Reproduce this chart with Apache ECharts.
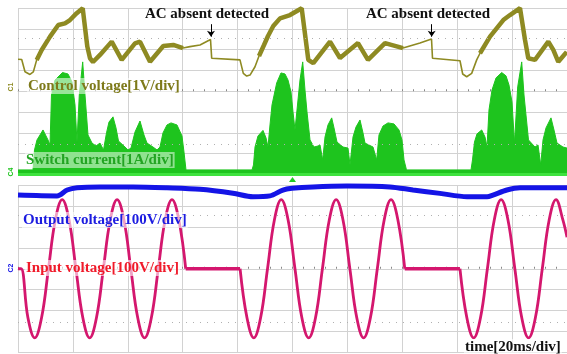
<!DOCTYPE html>
<html><head><meta charset="utf-8">
<script src="https://cdn.jsdelivr.net/npm/echarts@6/dist/echarts.min.js"></script>
<style>html,body{margin:0;padding:0;background:#fff}#c{width:567px;height:354px}</style>
</head><body><div id="c"></div>
<script>
// ---- DATA (time in ms, 20 ms/div) ----
const timeRange = [0, 200];
const timeStep = 20;

// Control voltage [V] (1 V/div)
const controlVoltage = [[0,1.36],[1.35,1.35],[2.55,0.76],[4.37,0.63],[5.57,0.75],[6.81,1.33],[8.63,1.81],[11.66,2.45],[14.68,3.01],[17.12,3.09],[18.94,3.25],[21.38,3.58],[23.57,3.82],[24.04,3.78],[25.25,1.97],[26.23,1.41],[27.32,1.23],[29.87,1.57],[34.13,2.21],[37.78,1.33],[42.62,2.13],[44.44,2.21],[48.09,1.24],[52.93,2.0],[56.58,2.05],[60.11,1.90],[62.66,1.97],[66.3,2.05],[70.13,2.31],[70.56,1.41],[80.87,1.33],[82.08,0.68],[83.32,0.55],[84.52,0.60],[86.34,1.0],[87.8,1.52],[89.62,2.05],[91.08,2.48],[93.0,2.96],[95.45,3.33],[99.09,3.49],[103.35,3.82],[103.93,3.73],[105.76,1.33],[107.58,1.17],[113.66,2.21],[117.3,1.42],[123.86,2.14],[127.5,1.33],[133.7,2.14],[140.26,1.90],[146.45,2.14],[150.64,2.34],[151.0,1.41],[161.02,1.29],[162.0,0.65],[163.46,0.52],[165.28,0.68],[167.1,1.33],[168.31,1.65],[171.95,2.45],[176.79,3.25],[179.23,3.49],[182.88,3.82],[183.24,3.78],[184.7,2.29],[185.9,1.41],[188.34,1.33],[193.19,2.21],[195.01,1.81],[196.83,1.24],[199.89,1.71]];
// time spans where the control voltage shows a wide ripple band
const controlRippleSpans = [[6.8, 61], [87.8, 141], [168.3, 200]];
// "AC absent detected" instants [ms]
const acAbsentTimes = [70.3, 150.7];

// Switch current envelope [A] (1 A/div)
const switchCurrent = [[0,0.22],[5.46,0.22],[6.01,1.18],[6.92,1.66],[9.11,2.14],[10.93,1.66],[11.66,1.42],[12.2,3.82],[13.48,4.54],[16.21,4.9],[18.21,4.83],[19.67,4.45],[20.77,3.34],[21.49,1.56],[22.33,3.82],[23.57,5.41],[24.41,3.82],[25.5,1.9],[26.96,1.51],[28.42,1.37],[29.87,1.51],[31.15,1.18],[32.24,2.0],[33.15,2.52],[34.61,2.77],[35.7,2.24],[36.61,1.61],[38.98,1.32],[40.07,1.18],[41.17,1.27],[42.62,2.04],[44.44,2.57],[45.9,1.9],[46.99,1.51],[49.18,1.32],[50.64,1.18],[51.73,1.32],[52.82,2.0],[54.28,2.38],[55.74,2.48],[57.92,2.38],[59.74,1.85],[60.47,1.08],[61.2,0.22],
[85.25,0.22],[85.79,0.46],[86.34,1.32],[87.43,1.85],[89.25,2.12],[90.35,1.76],[91.07,1.32],[91.8,2.38],[92.53,3.34],[94.24,4.4],[95.81,4.88],[97.27,4.83],[98.36,4.54],[99.45,3.97],[100.18,3.01],[100.91,2.14],[101.64,3.1],[102.73,4.54],[103.72,5.41],[104.55,4.06],[105.28,3.01],[106.38,1.66],[107.83,1.32],[109.29,1.37],[110.02,1.42],[111.0,0.7],[111.84,1.8],[112.93,2.38],[114.28,2.72],[115.12,2.24],[116.21,1.56],[118.4,1.32],[120.22,1.27],[120.95,0.46],[122.04,1.8],[123.13,2.28],[124.59,2.62],[125.68,2.0],[126.41,1.51],[129.33,1.32],[130.67,0.7],[131.51,1.9],[132.97,2.33],[134.79,2.48],[136.98,2.43],[138.8,2.14],[139.89,1.66],[140.62,0.7],[141.53,0.22],
[165.03,0.22],[165.57,0.7],[166.3,1.56],[167.21,1.95],[168.93,2.14],[170.13,1.8],[170.86,1.32],[171.58,3.1],[172.68,4.06],[174.14,4.64],[176.21,4.9],[177.78,4.74],[178.87,4.3],[179.96,3.49],[180.87,1.51],[182.04,4.21],[183.5,5.41],[184.34,3.82],[185.06,2.86],[185.97,1.66],[188.34,1.32],[189.44,1.42],[190.42,0.46],[191.26,1.66],[192.35,2.24],[194.17,2.72],[195.26,2.14],[196.36,1.51],[198.54,1.32],[200,1.27]];
const triggerTime = 100;

// Output voltage [V] (100 V/div)
const outputVoltage = [[0,352],[14.2,348],[17.9,376],[21.5,387],[29.9,391],[41.9,391],[54.3,387],[66.3,380],[78.3,361],[85.6,344],[91.8,348],[96.5,376],[99.8,384],[107.5,391],[119.9,395],[135.5,391],[143.9,376],[153.7,360],[163.6,344],[170.9,344],[173,352],[178.1,376],[182.9,387],[200,387]];

// Input voltage [V] (100 V/div)
const inputVoltage = [[0,0],[1.1,0],[3.6,-233],[6.1,-330],[8.6,-233],[11.1,0],[13.6,233],[16.1,330],[18.6,233],[21.1,0],[23.6,-233],[26.1,-330],[28.6,-233],[31.1,0],[33.6,233],[36.1,330],[38.6,233],[41.1,0],[43.6,-233],[46.1,-330],[48.6,-233],[51.1,0],[53.6,233],[56.1,330],[58.6,233],[61.1,0],
[80.9,0],[83.4,-233],[85.9,-330],[88.4,-233],[90.9,0],[93.4,233],[95.9,330],[98.4,233],[100.9,0],[103.4,-233],[105.9,-330],[108.4,-233],[110.9,0],[113.4,233],[115.9,330],[118.4,233],[120.9,0],[123.4,-233],[125.9,-330],[128.4,-233],[130.9,0],[133.4,233],[135.9,330],[138.4,233],[140.9,0],
[161,0],[163.5,-233],[166,-330],[168.5,-233],[171,0],[173.5,233],[176,330],[178.5,233],[181,0],[183.5,-233],[186,-330],[188.5,-233],[191,0],[193.5,233],[196,330],[198.5,233],[200,150]];

const labelTexts = {
  control: 'Control voltage[1V/div]',
  current: 'Switch current[1A/div]',
  output: 'Output voltage[100V/div]',
  input: 'Input voltage[100V/div]',
  time: 'time[20ms/div]',
  ac: 'AC absent detected'
};

// ---- STYLE ----
const GRID_COLOR = '#d2d2d2';
const FONT = 'bold 15px "Liberation Serif", "Times New Roman", serif';
const C_CTRL = '#8e8a22', C_CTRL_TXT = '#7e7a1a';
const C_CUR = '#1ec41e', C_CUR_TXT = '#22a422';
const C_OUT = '#1414e6', C_OUT_TXT = '#1c1ce0';
const C_IN = '#d4176e', C_IN_TXT = '#f01a2a';

const chart = echarts.init(document.getElementById('c'), null, {renderer: 'canvas'});

function inSpans(t) { return controlRippleSpans.some(s => t >= s[0] && t <= s[1]); }
const controlThick = controlVoltage.map(p => inSpans(p[0]) ? p : [p[0], null]);

// split input into sine segments and flat (absent) segments
const inSeg = [], flatSeg = [];
(function () {
  let cur = [inputVoltage[0]];
  for (let i = 1; i < inputVoltage.length; i++) {
    const p = inputVoltage[i], q = inputVoltage[i - 1];
    if (p[1] === 0 && q[1] === 0 && p[0] - q[0] > 6) {
      inSeg.push(cur); flatSeg.push([q, p]); cur = [p];
    } else cur.push(p);
  }
  inSeg.push(cur);
})();

const hiddenAxis = {axisLine:{show:false}, axisTick:{show:false}, axisLabel:{show:false}, splitLine:{show:false}};
function mainX(g) {
  return {gridIndex:g, type:'value', min:timeRange[0], max:timeRange[1], interval:timeStep,
    axisLine:{show:false}, axisTick:{show:false}, axisLabel:{show:false},
    splitLine:{show:true, lineStyle:{color:GRID_COLOR, width:1}}};
}
function centerX(g, yi) {
  return {gridIndex:g, type:'value', min:timeRange[0], max:timeRange[1], interval:timeStep,
    axisLine:{show:true, onZero:true, onZeroAxisIndex:yi, lineStyle:{color:GRID_COLOR}},
    axisTick:{show:true, length:2, lineStyle:{color:'#888'}},
    minorTick:{show:true, splitNumber:5, length:2, lineStyle:{color:'#888'}},
    axisLabel:{show:false}, splitLine:{show:false}};
}

const series = [
  {type:'line', xAxisIndex:0, yAxisIndex:0, data:[], silent:true,
    markLine:{symbol:'none', silent:true, label:{show:false}, animation:false,
      lineStyle:{type:[1,6], color:'#b0b0b0', width:1}, data:[{yAxis:2.55},{yAxis:-2.55}]}},
  {type:'line', xAxisIndex:1, yAxisIndex:3, data:[], silent:true,
    markLine:{symbol:'none', silent:true, label:{show:false}, animation:false,
      lineStyle:{type:[1,6], color:'#b0b0b0', width:1}, data:[{yAxis:255},{yAxis:-255}]}},
  {name:'Switch current', type:'line', xAxisIndex:0, yAxisIndex:2, data:switchCurrent, showSymbol:false, z:3,
    lineStyle:{color:C_CUR, width:1}, areaStyle:{color:C_CUR, opacity:1},
    markLine:{symbol:'none', silent:true, label:{show:false}, lineStyle:{color:'#3ee23e', width:3, type:'solid'}, data:[{yAxis:0}]},
    markPoint:{silent:true, data:[{coord:[triggerTime, 0], symbol:'triangle', symbolSize:[7,5], symbolOffset:[0,5], itemStyle:{color:'#22cc22'}, label:{show:false}}]}},
  {name:'Control voltage', type:'line', xAxisIndex:0, yAxisIndex:1, data:controlVoltage, showSymbol:false, z:4,
    lineStyle:{color:C_CTRL, width:1.6},
    markLine:{symbol:['none','arrow'], symbolSize:6, silent:true, label:{show:false},
      lineStyle:{color:'#000', width:1, type:'solid'},
      data: acAbsentTimes.map(t => [{coord:[t, 3.05]}, {coord:[t, 2.45]}])}},
  {name:'Control voltage ripple', type:'line', xAxisIndex:0, yAxisIndex:1, data:controlThick, showSymbol:false, z:4,
    connectNulls:false, lineStyle:{color:C_CTRL, width:4.5}},
  {name:'Output voltage', type:'line', xAxisIndex:1, yAxisIndex:3, data:outputVoltage, showSymbol:false, smooth:0.3, z:4,
    lineStyle:{color:C_OUT, width:5}}
];
inSeg.forEach(seg => series.push({name:'Input voltage', type:'line', xAxisIndex:1, yAxisIndex:3, data:seg,
  showSymbol:false, smooth:0.4, z:5, lineStyle:{color:C_IN, width:2.8}}));
flatSeg.forEach(seg => series.push({name:'Input voltage', type:'line', xAxisIndex:1, yAxisIndex:3, data:seg,
  showSymbol:false, z:5, lineStyle:{color:C_IN, width:3.5}}));

function lbl(text, x, y, fill, bg, align) {
  return {type:'text', x:x, y:y, z:100, silent:true,
    style:{text:text, font:FONT, fill:fill, textAlign:align || 'left', textVerticalAlign:'middle',
      backgroundColor:bg || 'transparent', padding:[1,1,0,1]}};
}
function tiny(text, x, y, fill) {
  return {type:'text', x:x, y:y, z:100, rotation:Math.PI/2, silent:true,
    style:{text:text, font:'bold 7px "Liberation Sans", sans-serif', fill:fill, textAlign:'center', textVerticalAlign:'middle'}};
}

chart.setOption({
  animation:false,
  backgroundColor:'#fff',
  grid:[{left:18, top:8, width:549, height:166.5}, {left:18, top:185, width:549, height:167.5}],
  xAxis:[mainX(0), mainX(1), centerX(0, 0), centerX(1, 3)],
  yAxis:[
    Object.assign({gridIndex:0, type:'value', min:-4, max:4, interval:1}, hiddenAxis, {splitLine:{show:true, lineStyle:{color:GRID_COLOR}}}),
    Object.assign({gridIndex:0, type:'value', min:-4.19, max:3.83}, hiddenAxis),
    Object.assign({gridIndex:0, type:'value', min:0, max:8}, hiddenAxis),
    Object.assign({gridIndex:1, type:'value', min:-400, max:400, interval:100}, hiddenAxis, {splitLine:{show:true, lineStyle:{color:GRID_COLOR}}})
  ],
  series: series,
  graphic: [
    lbl(labelTexts.control, 27, 86, C_CTRL_TXT, 'rgba(255,255,255,0.55)'),
    lbl(labelTexts.current, 25, 160, C_CUR_TXT, 'rgba(255,255,255,0.5)'),
    lbl(labelTexts.output, 22, 220, C_OUT_TXT, 'rgba(255,255,255,0.6)'),
    lbl(labelTexts.input, 25, 268, C_IN_TXT, 'rgba(255,255,255,0.6)'),
    lbl(labelTexts.time, 464, 347, '#111', 'rgba(255,255,255,0.6)'),
    lbl(labelTexts.ac, 207, 14, '#111', null, 'center'),
    lbl(labelTexts.ac, 428, 14, '#111', null, 'center'),
    tiny('C1', 11, 87, C_CTRL),
    tiny('C4', 11, 172, C_CUR),
    tiny('C2', 11, 268, C_OUT)
  ]
});
</script></body></html>
